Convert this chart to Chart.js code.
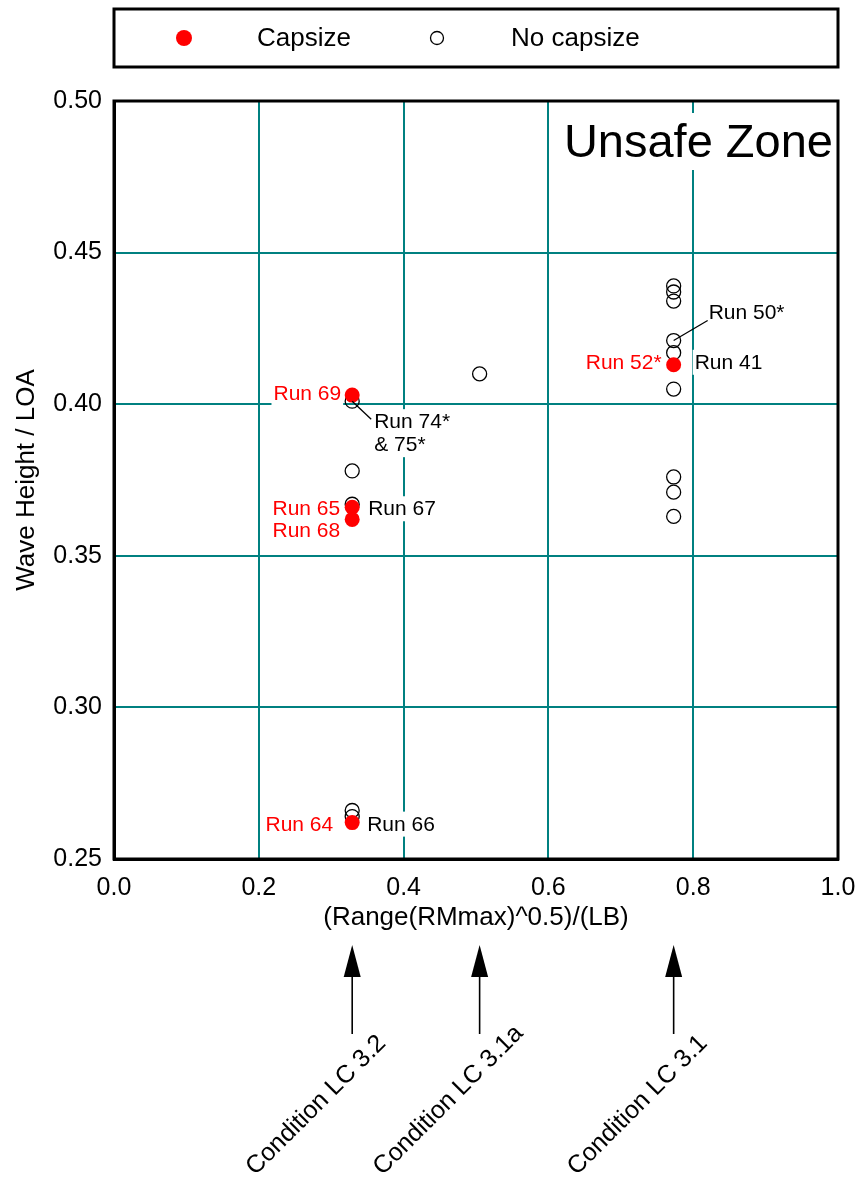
<!DOCTYPE html>
<html>
<head>
<meta charset="utf-8">
<title>Capsize / no capsize runs</title>
<script src="https://cdn.jsdelivr.net/npm/chart.js@4.4.1/dist/chart.umd.min.js"></script>
<style>
  html, body { margin: 0; padding: 0; background: #fff; }
</style>
</head>
<body>
<canvas id="myChart" width="861" height="1186"></canvas>
<script>
// data
const capsizeX = [0.329, 0.329, 0.329, 0.329, 0.773];
const capsizeY = [0.403, 0.366, 0.362, 0.262, 0.413];
const noCapsizeX = [0.329, 0.329, 0.329, 0.329, 0.329, 0.505,
  0.773, 0.773, 0.773, 0.773, 0.773, 0.773, 0.773, 0.773, 0.773];
const noCapsizeY = [0.401, 0.378, 0.367, 0.266, 0.264, 0.410,
  0.439, 0.437, 0.434, 0.421, 0.417, 0.405, 0.376, 0.371, 0.363];

const xTicks = [0.0, 0.2, 0.4, 0.6, 0.8, 1.0];
const yTicks = [0.25, 0.30, 0.35, 0.40, 0.45, 0.50];

// run labels and the point each one belongs to
const runNames = ['Run 69', 'Run 74*\n& 75*', 'Run 65', 'Run 68', 'Run 67', 'Run 64', 'Run 66', 'Run 52*', 'Run 41', 'Run 50*'];
const runAtX = [0.329, 0.329, 0.329, 0.329, 0.329, 0.329, 0.329, 0.773, 0.773, 0.773];
const runAtY = [0.403, 0.401, 0.366, 0.362, 0.367, 0.262, 0.262, 0.413, 0.413, 0.421];
const runCapsized = [true, false, true, true, false, true, false, true, false, false];

// where each label sits relative to its point (pixels), and leader line end
const labelLayout = [
  {dx: -11, dy: 5, align: 'right'},
  {dx: 22, dy: 27, align: 'left', leader: [19, 18]},
  {dx: -12, dy: 8, align: 'right'},
  {dx: -12, dy: 18, align: 'right'},
  {dx: 16, dy: 11, align: 'left'},
  {dx: -19, dy: 8, align: 'right'},
  {dx: 15, dy: 8, align: 'left'},
  {dx: -12, dy: 4, align: 'right'},
  {dx: 21, dy: 4, align: 'left'},
  {dx: 35, dy: -22, align: 'left', leader: [34, -20]}
];

const conditionAt = [0.329, 0.505, 0.773];
const conditionNames = ['Condition LC 3.2', 'Condition LC 3.1a', 'Condition LC 3.1'];

const zoneText = 'Unsafe Zone';
const FONT = '"Liberation Sans", Arial, sans-serif';
const GRID = '#008080';

function toPoints(xs, ys) {
  return xs.map((v, i) => ({x: v, y: ys[i]}));
}

const overlay = {
  id: 'overlay',
  beforeDatasetsDraw(chart) {
    const {ctx, chartArea: a, scales: {x, y}} = chart;
    ctx.save();

    // Unsafe Zone with white box over the grid
    ctx.font = '47px ' + FONT;
    ctx.textAlign = 'right';
    ctx.textBaseline = 'alphabetic';
    const zw = ctx.measureText(zoneText).width;
    ctx.fillStyle = '#fff';
    ctx.fillRect(a.right - 5 - zw - 4, a.top + 12, zw + 6, 57);
    ctx.fillStyle = '#000';
    ctx.fillText(zoneText, a.right - 5, a.top + 56);

    // run labels
    ctx.font = '21px ' + FONT;
    runNames.forEach((name, i) => {
      const l = labelLayout[i];
      const px = x.getPixelForValue(runAtX[i]) + l.dx;
      const py = y.getPixelForValue(runAtY[i]) + l.dy;
      const lines = name.split('\n');
      const w = Math.max(...lines.map(t => ctx.measureText(t).width));
      const left = l.align === 'right' ? px - w : px;
      ctx.fillStyle = '#fff';
      ctx.fillRect(left - 2, py - 19, w + 4, 25 + 23 * (lines.length - 1));
      ctx.fillStyle = runCapsized[i] ? '#ff0000' : '#000';
      ctx.textAlign = l.align;
      lines.forEach((t, k) => ctx.fillText(t, px, py + 23 * k));
    });
    ctx.restore();
  },
  afterDatasetsDraw(chart) {
    const {ctx, scales: {x, y}} = chart;
    ctx.save();
    ctx.strokeStyle = '#000';
    ctx.lineWidth = 1.3;
    runNames.forEach((name, i) => {
      const l = labelLayout[i];
      if (!l.leader) return;
      const px = x.getPixelForValue(runAtX[i]);
      const py = y.getPixelForValue(runAtY[i]);
      ctx.beginPath();
      ctx.moveTo(px, py);
      ctx.lineTo(px + l.leader[0], py + l.leader[1]);
      ctx.stroke();
    });
    ctx.restore();
  },
  afterDraw(chart) {
    const {ctx, chartArea: a, scales: {x}} = chart;
    ctx.save();

    // frame top and right
    ctx.strokeStyle = '#000';
    ctx.lineWidth = 3;
    ctx.strokeRect(a.left, a.top, a.right - a.left, a.bottom - a.top);

    // legend box
    ctx.lineWidth = 3;
    ctx.strokeRect(114, 9, 724, 58);
    const ds = chart.data.datasets;
    const legendX = [[184, 257], [437, 511]];
    ctx.font = '26px ' + FONT;
    ctx.textAlign = 'left';
    ctx.textBaseline = 'alphabetic';
    ds.forEach((d, i) => {
      ctx.beginPath();
      ctx.arc(legendX[i][0], 38, i === 0 ? 8 : 6.5, 0, Math.PI * 2);
      if (i === 0) {
        ctx.fillStyle = d.backgroundColor;
        ctx.fill();
      } else {
        ctx.lineWidth = 1.3;
        ctx.strokeStyle = '#000';
        ctx.stroke();
      }
      ctx.fillStyle = '#000';
      ctx.fillText(d.label, legendX[i][1], 46);
    });

    // condition arrows under the axis
    ctx.fillStyle = '#000';
    ctx.strokeStyle = '#000';
    ctx.lineWidth = 1.6;
    ctx.font = '25px ' + FONT;
    conditionAt.forEach((v, i) => {
      const px = x.getPixelForValue(v);
      ctx.beginPath();
      ctx.moveTo(px, 976);
      ctx.lineTo(px, 1034);
      ctx.stroke();
      ctx.beginPath();
      ctx.moveTo(px, 945);
      ctx.lineTo(px + 8.5, 977);
      ctx.lineTo(px - 8.5, 977);
      ctx.closePath();
      ctx.fill();

      ctx.save();
      ctx.translate(px - 97, 1176);
      ctx.rotate(-Math.PI / 4);
      ctx.textAlign = 'left';
      ctx.fillText(conditionNames[i], 0, 0);
      ctx.restore();
    });
    ctx.restore();
  }
};

const ctx = document.getElementById('myChart').getContext('2d');

// eslint-disable-next-line no-undef
const chart = new Chart(ctx, {
  type: 'scatter',
  data: {
    datasets: [{
      label: 'Capsize',
      data: toPoints(capsizeX, capsizeY),
      backgroundColor: '#ff0000',
      borderColor: '#ff0000',
      borderWidth: 0,
      pointRadius: 7.5
    },
    {
      label: 'No capsize',
      data: toPoints(noCapsizeX, noCapsizeY),
      backgroundColor: 'rgba(255,255,255,0)',
      borderColor: '#000',
      borderWidth: 1.3,
      pointRadius: 7
    }]
  },
  options: {
    responsive: false,
    animation: false,
    events: [],
    layout: {padding: {left: 0, right: 23, top: 101, bottom: 247}},
    plugins: {legend: {display: false}, tooltip: {enabled: false}},
    scales: {
      x: {
        type: 'linear',
        min: 0,
        max: 1,
        afterBuildTicks: s => { s.ticks = xTicks.map(v => ({value: v})); },
        afterFit: s => {
          s.height = 80;
          s.paddingLeft = 0;
          s.paddingRight = 0;
        },
        grid: {color: GRID, lineWidth: 2, drawTicks: false},
        border: {display: true, color: '#000', width: 3},
        ticks: {
          color: '#000',
          padding: 14,
          font: {family: FONT, size: 25},
          callback: v => Number(v).toFixed(1)
        },
        title: {
          display: true,
          text: '(Range(RMmax)^0.5)/(LB)',
          color: '#000',
          font: {family: FONT, size: 26},
          padding: {top: 0, bottom: 6}
        }
      },
      y: {
        type: 'linear',
        min: 0.25,
        max: 0.5,
        afterBuildTicks: s => { s.ticks = yTicks.map(v => ({value: v})); },
        afterFit: s => {
          s.width = 114;
          s.paddingTop = 0;
          s.paddingBottom = 0;
        },
        grid: {color: GRID, lineWidth: 2, drawTicks: false},
        border: {display: true, color: '#000', width: 3},
        ticks: {
          color: '#000',
          padding: 12,
          font: {family: FONT, size: 25},
          callback: v => Number(v).toFixed(2)
        },
        title: {
          display: true,
          text: 'Wave Height / LOA',
          color: '#000',
          font: {family: FONT, size: 26},
          padding: {top: 11, bottom: 0}
        }
      }
    }
  },
  plugins: [overlay]
});
</script>
</body>
</html>
